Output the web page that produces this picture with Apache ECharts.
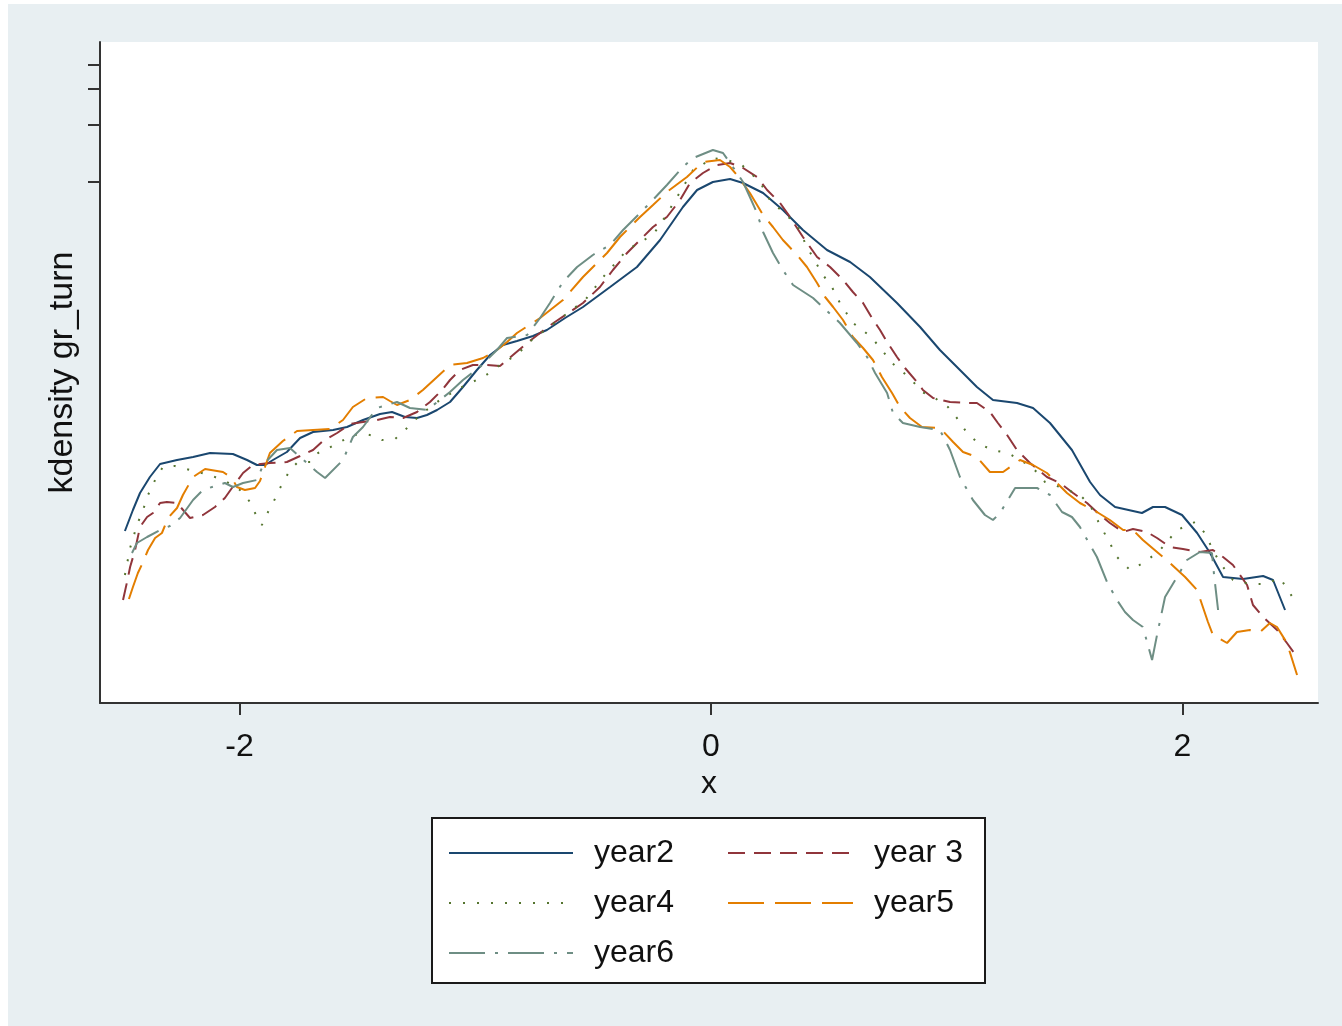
<!DOCTYPE html>
<html>
<head>
<meta charset="utf-8">
<script src="https://cdn.jsdelivr.net/npm/echarts@6/dist/echarts.min.js"></script>
<style>
html,body{margin:0;padding:0;background:#fff;}
#c{width:1342px;height:1026px;}
</style>
</head>
<body>
<div id="c"></div>
<script>
const xTicks = [-2, 0, 2];
const yTicks = [0.521, 0.578, 0.614, 0.638];
const seriesNames = ['year2', 'year 3', 'year4', 'year5', 'year6'];

const year2 = [
[-2.486,0.172],[-2.452,0.193],[-2.422,0.210],[-2.380,0.226],[-2.337,0.239],[-2.265,0.243],[-2.197,0.246],[-2.125,0.250],[-2.028,0.249],[-1.968,0.243],
[-1.926,0.238],[-1.892,0.238],[-1.858,0.243],[-1.799,0.251],[-1.743,0.265],[-1.688,0.271],[-1.603,0.273],[-1.544,0.276],[-1.476,0.283],[-1.404,0.289],
[-1.353,0.291],[-1.298,0.286],[-1.247,0.285],[-1.205,0.288],[-1.162,0.293],[-1.107,0.301],[-1.052,0.316],[-0.993,0.333],[-0.937,0.348],[-0.882,0.358],
[-0.823,0.362],[-0.755,0.367],[-0.696,0.373],[-0.619,0.385],[-0.543,0.396],[-0.428,0.416],[-0.314,0.436],[-0.216,0.463],[-0.119,0.496],[-0.059,0.513],
[0.008,0.521],[0.081,0.524],[0.136,0.520],[0.221,0.510],[0.305,0.493],[0.390,0.473],[0.492,0.453],[0.590,0.441],[0.674,0.426],[0.789,0.400],
[0.887,0.376],[0.971,0.353],[1.056,0.333],[1.128,0.316],[1.196,0.303],[1.298,0.300],[1.366,0.295],[1.438,0.280],[1.531,0.253],[1.608,0.221],
[1.650,0.208],[1.714,0.196],[1.828,0.190],[1.875,0.196],[1.926,0.196],[1.998,0.188],[2.062,0.170],[2.117,0.150],[2.172,0.126],[2.257,0.124],
[2.342,0.127],[2.384,0.123],[2.435,0.093]];

const year3 = [
[-2.494,0.103],[-2.477,0.121],[-2.464,0.136],[-2.443,0.153],[-2.422,0.176],[-2.392,0.186],[-2.367,0.190],[-2.337,0.200],[-2.308,0.201],[-2.265,0.200],
[-2.210,0.185],[-2.155,0.188],[-2.104,0.196],[-2.062,0.205],[-2.032,0.215],[-1.985,0.230],[-1.943,0.238],[-1.871,0.240],[-1.799,0.241],[-1.743,0.247],
[-1.688,0.253],[-1.646,0.262],[-1.586,0.270],[-1.531,0.279],[-1.476,0.281],[-1.417,0.283],[-1.362,0.286],[-1.306,0.285],[-1.247,0.291],[-1.192,0.301],
[-1.141,0.313],[-1.107,0.323],[-1.065,0.333],[-1.010,0.338],[-0.950,0.338],[-0.895,0.337],[-0.840,0.348],[-0.780,0.360],[-0.725,0.370],[-0.662,0.381],
[-0.598,0.391],[-0.543,0.400],[-0.471,0.416],[-0.416,0.433],[-0.356,0.450],[-0.301,0.463],[-0.246,0.476],[-0.187,0.486],[-0.131,0.503],[-0.089,0.520],
[-0.034,0.530],[0.025,0.538],[0.081,0.540],[0.136,0.535],[0.195,0.526],[0.238,0.513],[0.293,0.500],[0.335,0.486],[0.390,0.466],[0.450,0.446],
[0.505,0.436],[0.560,0.423],[0.602,0.411],[0.645,0.400],[0.683,0.385],[0.717,0.373],[0.747,0.361],[0.789,0.346],[0.823,0.335],[0.874,0.321],
[0.899,0.313],[0.942,0.305],[1.014,0.301],[1.086,0.300],[1.128,0.300],[1.183,0.291],[1.217,0.280],[1.256,0.268],[1.298,0.253],[1.353,0.240],
[1.425,0.226],[1.480,0.220],[1.536,0.210],[1.595,0.200],[1.650,0.188],[1.692,0.180],[1.748,0.171],[1.790,0.174],[1.849,0.171],[1.892,0.165],
[1.947,0.156],[2.002,0.154],[2.074,0.151],[2.129,0.153],[2.172,0.146],[2.214,0.138],[2.274,0.118],[2.299,0.098],[2.342,0.086],[2.401,0.073],
[2.443,0.060],[2.486,0.046]];

const year4 = [
[-2.486,0.128],[-2.464,0.155],[-2.435,0.178],[-2.409,0.193],[-2.388,0.208],[-2.358,0.223],[-2.325,0.236],[-2.274,0.237],[-2.210,0.233],[-2.125,0.228],
[-2.053,0.221],[-1.998,0.213],[-1.955,0.201],[-1.930,0.188],[-1.905,0.178],[-1.879,0.191],[-1.858,0.200],[-1.828,0.215],[-1.786,0.233],[-1.752,0.241],
[-1.692,0.241],[-1.667,0.250],[-1.637,0.253],[-1.574,0.261],[-1.519,0.268],[-1.468,0.269],[-1.425,0.267],[-1.396,0.263],[-1.340,0.264],[-1.298,0.273],
[-1.234,0.288],[-1.150,0.303],[-1.065,0.315],[-0.959,0.327],[-0.895,0.338],[-0.819,0.349],[-0.776,0.360],[-0.704,0.373],[-0.619,0.388],[-0.534,0.403],
[-0.450,0.428],[-0.356,0.453],[-0.301,0.461],[-0.246,0.468],[-0.195,0.486],[-0.131,0.511],[-0.076,0.533],[-0.038,0.538],[0.004,0.545],[0.068,0.543],
[0.131,0.538],[0.208,0.521],[0.250,0.503],[0.305,0.491],[0.365,0.478],[0.407,0.456],[0.475,0.428],[0.513,0.416],[0.547,0.400],[0.602,0.380],
[0.632,0.375],[0.683,0.365],[0.725,0.353],[0.768,0.340],[0.844,0.325],[0.895,0.311],[0.950,0.305],[1.005,0.296],[1.043,0.285],[1.086,0.270],
[1.133,0.260],[1.192,0.253],[1.260,0.250],[1.311,0.243],[1.366,0.235],[1.417,0.221],[1.480,0.216],[1.565,0.208],[1.608,0.198],[1.650,0.178],
[1.692,0.160],[1.722,0.146],[1.777,0.133],[1.841,0.141],[1.905,0.153],[1.977,0.173],[2.053,0.181],[2.095,0.170],[2.129,0.153],[2.159,0.140],
[2.214,0.123],[2.286,0.119],[2.350,0.119],[2.414,0.125],[2.469,0.105]];

const year5 = [
[-2.469,0.104],[-2.452,0.116],[-2.431,0.130],[-2.409,0.141],[-2.388,0.153],[-2.358,0.165],[-2.329,0.170],[-2.303,0.185],[-2.265,0.195],[-2.240,0.208],
[-2.197,0.226],[-2.146,0.234],[-2.070,0.231],[-2.032,0.225],[-2.011,0.216],[-1.977,0.213],[-1.934,0.215],[-1.913,0.222],[-1.892,0.236],[-1.871,0.250],
[-1.816,0.262],[-1.756,0.272],[-1.688,0.273],[-1.616,0.274],[-1.561,0.283],[-1.519,0.296],[-1.459,0.305],[-1.391,0.306],[-1.362,0.302],[-1.332,0.298],
[-1.277,0.303],[-1.222,0.313],[-1.162,0.326],[-1.107,0.338],[-1.035,0.340],[-0.967,0.345],[-0.908,0.353],[-0.865,0.361],[-0.823,0.370],[-0.725,0.385],
[-0.628,0.403],[-0.543,0.426],[-0.441,0.450],[-0.386,0.466],[-0.301,0.486],[-0.246,0.498],[-0.187,0.511],[-0.102,0.526],[-0.034,0.541],[0.038,0.543],
[0.081,0.536],[0.110,0.528],[0.165,0.510],[0.221,0.488],[0.263,0.476],[0.305,0.463],[0.365,0.448],[0.407,0.436],[0.450,0.420],[0.484,0.406],
[0.518,0.396],[0.560,0.383],[0.602,0.366],[0.645,0.355],[0.687,0.343],[0.725,0.326],[0.768,0.310],[0.802,0.296],[0.844,0.285],[0.895,0.276],
[0.971,0.275],[1.027,0.261],[1.069,0.251],[1.128,0.246],[1.183,0.231],[1.239,0.231],[1.311,0.243],[1.366,0.238],[1.425,0.230],[1.510,0.210],
[1.565,0.200],[1.637,0.191],[1.692,0.183],[1.748,0.173],[1.790,0.173],[1.832,0.163],[1.892,0.151],[1.947,0.140],[2.011,0.126],[2.062,0.113],
[2.108,0.081],[2.129,0.068],[2.189,0.060],[2.231,0.071],[2.286,0.073],[2.329,0.071],[2.371,0.080],[2.401,0.076],[2.443,0.060],[2.486,0.028]];

const year6 = [
[-2.456,0.150],[-2.435,0.160],[-2.392,0.166],[-2.337,0.173],[-2.295,0.177],[-2.252,0.185],[-2.197,0.203],[-2.155,0.213],[-2.104,0.217],[-2.062,0.220],
[-2.028,0.216],[-1.985,0.220],[-1.926,0.223],[-1.900,0.238],[-1.841,0.253],[-1.786,0.255],[-1.743,0.246],[-1.671,0.231],[-1.637,0.225],[-1.561,0.243],
[-1.519,0.266],[-1.476,0.276],[-1.417,0.295],[-1.332,0.301],[-1.277,0.295],[-1.205,0.293],[-1.150,0.303],[-1.107,0.311],[-1.052,0.323],[-0.980,0.336],
[-0.908,0.353],[-0.865,0.365],[-0.780,0.368],[-0.725,0.385],[-0.683,0.400],[-0.628,0.421],[-0.568,0.436],[-0.501,0.448],[-0.428,0.458],[-0.373,0.473],
[-0.301,0.490],[-0.259,0.500],[-0.187,0.518],[-0.119,0.536],[-0.076,0.545],[0.008,0.553],[0.051,0.550],[0.093,0.536],[0.136,0.521],[0.165,0.506],
[0.195,0.490],[0.221,0.471],[0.263,0.450],[0.305,0.433],[0.348,0.418],[0.433,0.405],[0.492,0.392],[0.547,0.380],[0.619,0.360],[0.662,0.346],
[0.696,0.330],[0.747,0.310],[0.772,0.290],[0.814,0.280],[0.887,0.276],[0.971,0.273],[1.014,0.253],[1.056,0.226],[1.111,0.203],[1.162,0.188],
[1.196,0.183],[1.226,0.190],[1.290,0.215],[1.383,0.215],[1.438,0.208],[1.489,0.191],[1.531,0.186],[1.565,0.176],[1.637,0.146],[1.680,0.121],
[1.722,0.103],[1.756,0.091],[1.790,0.083],[1.832,0.076],[1.871,0.043],[1.892,0.068],[1.926,0.106],[1.977,0.126],[2.019,0.143],[2.074,0.151],
[2.125,0.150],[2.134,0.128],[2.151,0.093]];

const seriesData = [year2, year3, year4, year5, year6];
const colors = ['#1a476f', '#90353b', '#55752f', '#e37e00', '#6e8e84'];
const dashes = ['solid', [17, 9], [2, 12], [36, 11], [36, 10, 3, 10]];

const FONT = '"Liberation Sans", Arial, Helvetica, sans-serif';
const chart = echarts.init(document.getElementById('c'), null, {renderer: 'canvas'});

const legendText = {fontSize: 32, lineHeight: 32, color: '#111', fontFamily: FONT, padding: [0, 0, 0, 16]};
const legendItemStyle = {color: 'rgba(0,0,0,0)', borderWidth: 0, opacity: 0};

const option = {
  animation: false,
  backgroundColor: '#ffffff',
  textStyle: {fontFamily: FONT},
  graphic: [
    {type: 'rect', z: -10, silent: true, shape: {x: 8, y: 4, width: 1334, height: 1022}, style: {fill: '#e8eff2'}},
    {type: 'rect', z: 1, silent: true, shape: {x: 432, y: 818, width: 553, height: 165}, style: {fill: '#ffffff', stroke: '#1a1a1a', lineWidth: 2}}
  ],
  grid: {left: 100, top: 42, width: 1218, height: 661, show: true, backgroundColor: '#ffffff', borderWidth: 0},
  xAxis: {
    type: 'value', min: -2.5917, max: 2.5748,
    name: 'x', nameLocation: 'middle', nameGap: 62,
    nameTextStyle: {fontSize: 32, color: '#111', fontFamily: FONT},
    axisLine: {show: true, onZero: false, lineStyle: {color: '#333', width: 2}},
    axisTick: {show: true, length: 12, customValues: xTicks, lineStyle: {color: '#333', width: 2}},
    axisLabel: {show: true, customValues: xTicks, fontSize: 32, margin: 28, color: '#111', fontFamily: FONT},
    splitLine: {show: false}
  },
  yAxis: {
    type: 'value', min: 0, max: 0.661,
    name: 'kdensity gr_turn', nameLocation: 'middle', nameGap: 20,
    nameTextStyle: {fontSize: 34, color: '#111', fontFamily: FONT},
    axisLine: {show: true, onZero: false, lineStyle: {color: '#333', width: 2}},
    axisTick: {show: true, length: 12, customValues: yTicks, lineStyle: {color: '#333', width: 2}},
    axisLabel: {show: false},
    splitLine: {show: false}
  },
  legend: [
    {data: [seriesNames[0], seriesNames[2], seriesNames[4]], orient: 'vertical', left: 448, top: 837, padding: 0,
     itemWidth: 124, itemHeight: 32, itemGap: 18, textStyle: legendText, itemStyle: legendItemStyle, selectedMode: false},
    {data: [seriesNames[1], seriesNames[3]], orient: 'vertical', left: 727, top: 837, padding: 0,
     itemWidth: 125, itemHeight: 32, itemGap: 18, textStyle: legendText, itemStyle: legendItemStyle, selectedMode: false}
  ],
  series: seriesNames.map((n, i) => ({
    type: 'line', name: n, data: seriesData[i],
    symbol: 'none', showSymbol: false, smooth: false,
    lineStyle: {color: colors[i], width: 2, type: dashes[i]},
    itemStyle: {color: colors[i]}
  }))
};
chart.setOption(option);
</script>
</body>
</html>
